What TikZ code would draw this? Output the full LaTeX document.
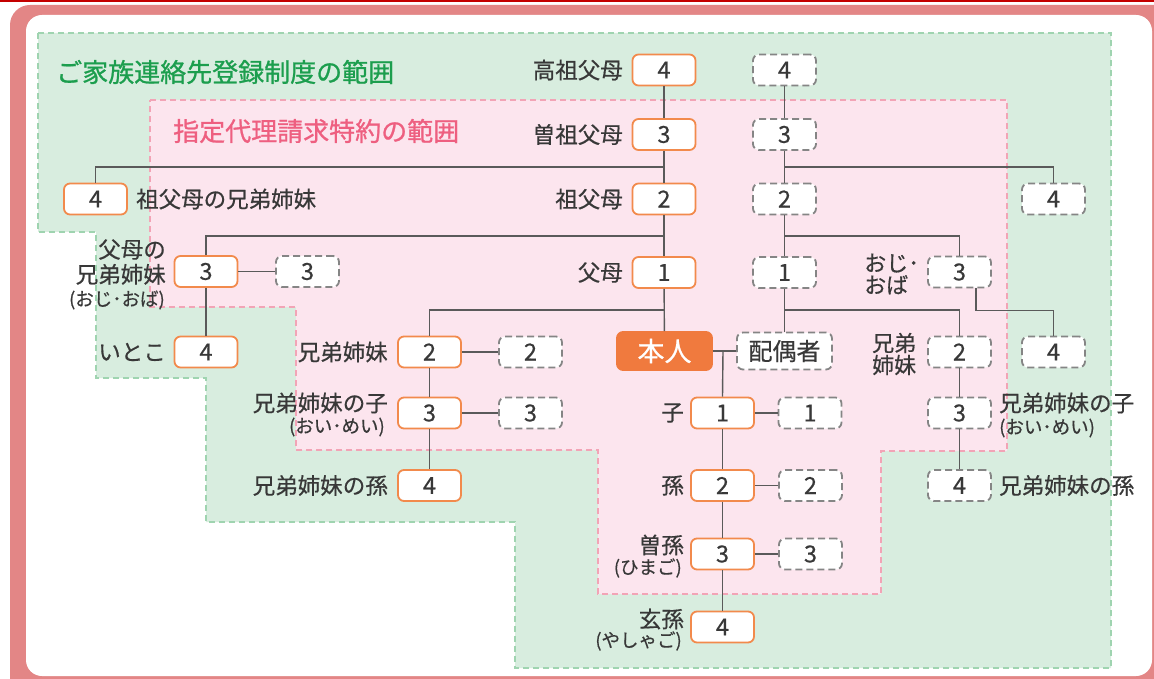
\documentclass[tikz,border=0pt]{standalone}
\usepackage{fontspec}
\newfontfamily\jp[FakeBold=0.5]{Noto Sans CJK JP}
\newfontfamily\jpt[FakeBold=0.9]{Noto Sans CJK JP}
\definecolor{framec}{HTML}{E38686}
\definecolor{topred}{HTML}{C40000}
\definecolor{gfill}{HTML}{D8EDDF}
\definecolor{gline}{HTML}{9FD4B0}
\definecolor{pfill}{HTML}{FCE5EE}
\definecolor{pline}{HTML}{F2A4B6}
\definecolor{gtitle}{HTML}{1C9E4E}
\definecolor{ptitle}{HTML}{EE5F80}
\definecolor{obord}{HTML}{F28A4C}
\definecolor{ofill}{HTML}{F07A3E}
\definecolor{dgray}{HTML}{858585}
\definecolor{lgray}{HTML}{5A5A5A}
\definecolor{txt}{HTML}{383838}
\begin{document}
\begin{tikzpicture}[x=1pt,y=-1pt,
  obox/.style={draw=obord, line width=1.8pt, fill=white, rounded corners=6pt,
    minimum width=63pt, minimum height=31pt, inner sep=0pt,
    font=\jp\fontsize{23.5}{23.5}\selectfont, text=txt},
  dbox/.style={obox, draw=dgray, dash pattern=on 7pt off 4pt},
  lbl/.style={font=\jp\fontsize{22.5}{25}\selectfont, text=txt, inner sep=0pt},
  lblt/.style={font=\jp\fontsize{22}{22}\selectfont, text=txt, inner sep=0pt},
  sml/.style={font=\jp\fontsize{18.5}{18.5}\selectfont, text=txt, inner sep=0pt},
  ttl/.style={font=\jpt\fontsize{26}{26}\selectfont, inner sep=0pt, anchor=west},
  conn/.style={draw=lgray, line width=1.4pt},
  region/.style={line width=1.2pt, dash pattern=on 6pt off 4pt},
]
\useasboundingbox (0,0) rectangle (1154,679);
\clip (0,0) rectangle (1154,679);
% frame
\fill[framec, rounded corners=20pt] (10,5) rectangle (1180,710);
\fill[white, rounded corners=16pt] (26,15) rectangle (1152,676);
\fill[topred] (0,0) rectangle (1154,2);
% regions
\path[region, fill=gfill, draw=gline] (38,33) -- (1111,33) -- (1111,668) -- (515,668) -- (515,522) -- (206,522) -- (206,378) -- (96,378) -- (96,232) -- (38,232) -- cycle;
\path[region, fill=pfill, draw=pline] (150,100) -- (1007,100) -- (1007,451) -- (881,451) -- (881,594) -- (598,594) -- (598,450) -- (296,450) -- (296,307) -- (150,307) -- cycle;
% titles
\node[ttl, text=gtitle] (t1) at (56,72) {ご家族連絡先登録制度の範囲};
\node[ttl, text=ptitle] (t2) at (173,131) {指定代理請求特約の範囲};
% main column
\node[obox] (m4) at (664,70) {4};
\node[obox] (m3) at (664,134.5) {3};
\node[obox] (m2) at (664,199) {2};
\node[obox] (m1) at (664,272.5) {1};
\node[obox, fill=ofill, draw=ofill, text=white, minimum width=95pt, minimum height=38pt, font=\jp\fontsize{27}{27}\selectfont] (me) at (664.5,351) {本人};
% spouse column
\node[dbox] (sp4) at (784.5,70) {4};
\node[dbox] (sp3) at (784.5,134.5) {3};
\node[dbox] (sp2) at (784.5,199) {2};
\node[dbox] (sp1) at (784.5,272.5) {1};
\node[dbox, minimum width=95pt, minimum height=37pt, font=\jp\fontsize{24}{24}\selectfont] (sp) at (784.5,351) {配偶者};
% grandparents' siblings
\node[obox] (gu4) at (95.5,199) {4};
\node[dbox] (sg4) at (1053.5,199) {4};
% parents' siblings
\node[obox] (pu3) at (206,271.5) {3};
\node[dbox] (pu3d) at (307.5,271.5) {3};
\node[obox] (cousin) at (206,352) {4};
\node[dbox] (so3) at (959.5,272) {3};
\node[dbox] (sc4) at (1053.5,352) {4};
% siblings
\node[obox] (sib2) at (429.5,352) {2};
\node[dbox] (sib2d) at (530.5,352) {2};
\node[obox] (sib3) at (429.5,413) {3};
\node[dbox] (sib3d) at (530.5,413) {3};
\node[obox] (sib4) at (429.5,485.5) {4};
\node[dbox] (ssib2) at (959.5,352) {2};
\node[dbox] (ssib3) at (959.5,413) {3};
\node[dbox] (ssib4) at (959.5,485.5) {4};
% descendants
\node[obox] (c1) at (722.5,413) {1};
\node[dbox] (c1d) at (810,413) {1};
\node[obox] (g2) at (722.5,485.5) {2};
\node[dbox] (g2d) at (810.5,485.5) {2};
\node[obox] (gg3) at (722.5,554) {3};
\node[dbox] (gg3d) at (810.5,554) {3};
\node[obox] (ggg4) at (722.5,627) {4};
% labels
\node[lbl, anchor=east] (l1) at (623,70) {高祖父母};
\node[lbl, anchor=east] (l2) at (623,134.5) {曽祖父母};
\node[lbl, anchor=east] (l3) at (623,199) {祖父母};
\node[lbl, anchor=east] (l4) at (623,272.5) {父母};
\node[lbl, anchor=west] (l5) at (136,199) {祖父母の兄弟姉妹};
\node[lbl, anchor=east, align=right] (l6) at (166,262) {父母の\\兄弟姉妹};
\node[sml, anchor=east] (l6s) at (165,300) {(おじ･おば)};
\node[lbl, anchor=east] (l7) at (166,352) {いとこ};
\node[lbl, anchor=east] (l8) at (388,352) {兄弟姉妹};
\node[lbl, anchor=east] (l9) at (388,403) {兄弟姉妹の子};
\node[sml, anchor=east] (l9s) at (385,427) {(おい･めい)};
\node[lbl, anchor=east] (l10) at (388,485.5) {兄弟姉妹の孫};
\node[lbl, anchor=east] (l11) at (684,413) {子};
\node[lbl, anchor=east] (l12) at (684,485.5) {孫};
\node[lbl, anchor=east] (l13) at (684,545) {曽孫};
\node[sml, anchor=east] (l13s) at (682,568) {(ひまご)};
\node[lbl, anchor=east] (l14) at (684,619) {玄孫};
\node[sml, anchor=east] (l14s) at (682,641) {(やしゃご)};
\node[lblt, anchor=west, align=left] (l15) at (864,274) {おじ･\\おば};
\node[lblt, anchor=west, align=left] (l16) at (872,354) {兄弟\\姉妹};
\node[lbl, anchor=west] (l17) at (999,403) {兄弟姉妹の子};
\node[sml, anchor=west] (l17s) at (999,428) {(おい･めい)};
\node[lbl, anchor=west] (l18) at (999,485.5) {兄弟姉妹の孫};
% junction coordinates
\coordinate (jA) at (664,167);
\coordinate (jA2) at (784.5,167);
\coordinate (jB) at (664,236);
\coordinate (jB2) at (784.5,236);
\coordinate (jC) at (664,310);
\coordinate (jC2) at (784.5,310);
\coordinate (jE) at (723,351);
% connectors
\draw[conn] (m4) -- (m3);
\draw[conn] (m3) -- (m2);
\draw[conn] (m2) -- (m1);
\draw[conn] (m1) -- (me);
\draw[conn] (sp4) -- (sp3);
\draw[conn] (sp3) -- (sp2);
\draw[conn] (sp2) -- (sp1);
\draw[conn] (sp1) -- (sp);
\draw[conn] (gu4.north) |- (jA);
\draw[conn] (sg4.north) |- (jA2);
\draw[conn] (pu3.north) |- (jB);
\draw[conn] (so3.north) |- (jB2);
\draw[conn] (sib2.north) |- (jC);
\draw[conn] (ssib2.north) |- (jC2);
\draw[conn] (pu3) -- (pu3d);
\draw[conn] (pu3) -- (cousin);
\draw[conn] ([xshift=16.5pt]so3.south) -- ++(0,22) -| (sc4.north);
\draw[conn] (sib2) -- (sib2d);
\draw[conn] (sib2) -- (sib3);
\draw[conn] (sib3) -- (sib3d);
\draw[conn] (sib3) -- (sib4);
\draw[conn] (ssib2) -- (ssib3);
\draw[conn] (ssib3) -- (ssib4);
\draw[conn] (me) -- (sp);
\draw[conn] (jE) -- (c1.north);
\draw[conn] (c1) -- (c1d);
\draw[conn] (c1) -- (g2);
\draw[conn] (g2) -- (g2d);
\draw[conn] (g2) -- (gg3);
\draw[conn] (gg3) -- (gg3d);
\draw[conn] (gg3) -- (ggg4);
\end{tikzpicture}
\end{document}
